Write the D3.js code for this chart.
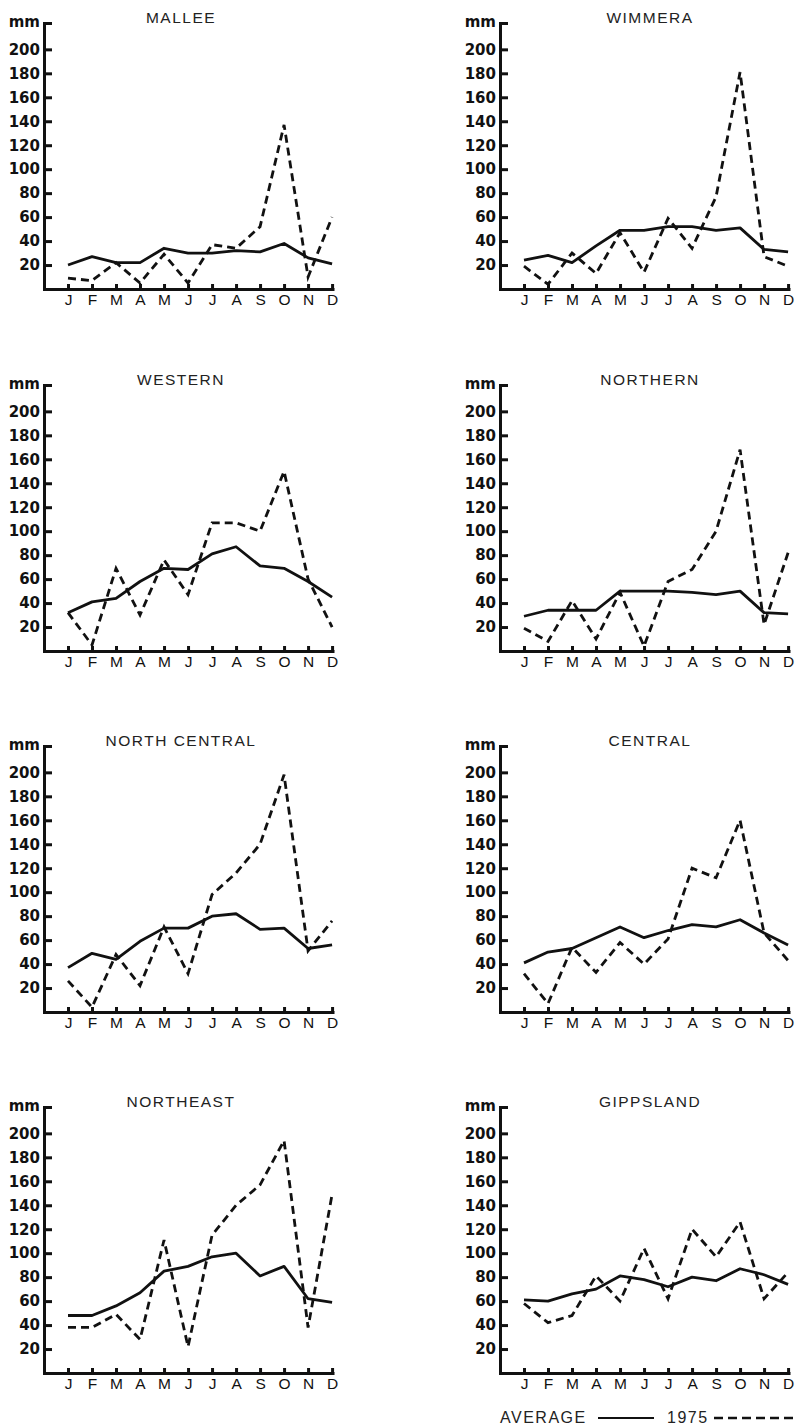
<!DOCTYPE html>
<html>
<head>
<meta charset="utf-8">
<script src="https://cdn.jsdelivr.net/npm/d3@7"></script>
<style>
  body { margin: 0; background: #fff; }
  svg { display: block; }
</style>
</head>
<body>
<script>
const w = 796;
const h = 1426;

// month labels and value ticks
const months = ["J", "F", "M", "A", "M", "J", "J", "A", "S", "O", "N", "D"];
const yTicks = [20, 40, 60, 80, 100, 120, 140, 160, 180, 200];
const regions = ["MALLEE", "WIMMERA", "WESTERN", "NORTHERN", "NORTH CENTRAL", "CENTRAL", "NORTHEAST", "GIPPSLAND"];

// average monthly rainfall (mm)
const avgMallee       = [20, 27, 22, 22, 34, 30, 30, 32, 31, 38, 26, 21];
const avgWimmera      = [24, 28, 22, 36, 49, 49, 52, 52, 49, 51, 33, 31];
const avgWestern      = [32, 41, 44, 58, 69, 68, 81, 87, 71, 69, 58, 45];
const avgNorthern     = [29, 34, 34, 34, 50, 50, 50, 49, 47, 50, 32, 31];
const avgNorthCentral = [37, 49, 44, 59, 70, 70, 80, 82, 69, 70, 53, 56];
const avgCentral      = [41, 50, 53, 62, 71, 62, 68, 73, 71, 77, 66, 56];
const avgNortheast    = [48, 48, 56, 67, 85, 89, 97, 100, 81, 89, 62, 59];
const avgGippsland    = [61, 60, 66, 70, 81, 78, 72, 80, 77, 87, 82, 74];

// 1975 monthly rainfall (mm)
const r75Mallee       = [9, 7, 22, 5, 29, 5, 37, 34, 52, 137, 10, 60];
const r75Wimmera      = [19, 4, 30, 13, 47, 14, 59, 34, 77, 181, 27, 19];
const r75Western      = [32, 5, 69, 30, 76, 47, 107, 107, 100, 150, 60, 20];
const r75Northern     = [19, 8, 42, 10, 49, 4, 58, 68, 100, 168, 22, 82];
const r75NorthCentral = [26, 4, 48, 22, 71, 32, 98, 116, 140, 198, 51, 76];
const r75Central      = [32, 7, 54, 33, 58, 40, 61, 120, 112, 160, 66, 43];
const r75Northeast    = [38, 38, 49, 28, 111, 22, 115, 140, 157, 194, 38, 149];
const r75Gippsland    = [58, 42, 48, 81, 60, 104, 62, 120, 97, 126, 62, 84];

const averages = [avgMallee, avgWimmera, avgWestern, avgNorthern, avgNorthCentral, avgCentral, avgNortheast, avgGippsland];
const rain1975 = [r75Mallee, r75Wimmera, r75Western, r75Northern, r75NorthCentral, r75Central, r75Northeast, r75Gippsland];

const colX = [44, 500];
const rowY = [289, 651, 1012, 1373];

const svg = d3.select("body")
    .append("svg")
    .attr("width", w)
    .attr("height", h)

const ink = "#111";

regions.forEach((name, k) => {
    const ax = colX[k % 2];
    const ay = rowY[Math.floor(k / 2)];

    // J at ax+24 ... D at ax+288, axis line runs from ax to ax+290
    const xScale = d3.scaleLinear()
      .domain([-1, 11.08])
      .range([ax, ax + 290])

    const yScale = d3.scaleLinear()
      .domain([0, 222])
      .range([ay, ay - 266])

    const g = svg.append("g")

    // Left axis
    const yAxis = d3.axisLeft(yScale)
      .tickValues(yTicks)
      .tickSizeInner(-8)
      .tickSizeOuter(-8)
      .tickPadding(4)

    const yg = g.append("g")
      .attr("transform", `translate(${ax},0)`)
      .call(yAxis)
    yg.select(".domain").attr("stroke", ink).attr("stroke-width", 3)
    yg.selectAll(".tick line").attr("stroke", ink).attr("stroke-width", 3)
    yg.selectAll(".tick text")
      .style("font-family", "DejaVu Sans")
      .style("font-weight", "bold")
      .style("font-size", "15px")
      .attr("fill", ink)

    // Bottom axis
    const xAxis = d3.axisBottom(xScale)
      .tickValues(d3.range(12))
      .tickFormat(i => months[i])
      .tickSizeInner(-5)
      .tickSizeOuter(0)
      .tickPadding(5)

    const xg = g.append("g")
      .attr("transform", `translate(0,${ay})`)
      .call(xAxis)
    xg.select(".domain").attr("stroke", ink).attr("stroke-width", 3)
    xg.selectAll(".tick line").attr("stroke", ink).attr("stroke-width", 3)
    xg.selectAll(".tick text")
      .style("font-family", "Liberation Sans")
      .style("font-size", "15.5px")
      .attr("fill", ink)

    // unit label
    g.append("text")
      .attr("x", ax - 4)
      .attr("y", ay - 262)
      .attr("text-anchor", "end")
      .style("font-family", "DejaVu Sans")
      .style("font-weight", "bold")
      .style("font-size", "15px")
      .attr("fill", ink)
      .text("mm")

    // panel title
    g.append("text")
      .attr("x", ax + (k % 2 ? 150 : 137))
      .attr("y", ay - 266)
      .attr("text-anchor", "middle")
      .style("font-family", "Liberation Sans")
      .style("font-size", "15.5px")
      .style("letter-spacing", "1.5px")
      .attr("fill", "#222")
      .text(name)

    const line = d3.line()
      .x((d, i) => xScale(i))
      .y(d => yScale(d))

    // average
    g.append("path")
      .datum(averages[k])
      .attr("d", line)
      .attr("fill", "none")
      .attr("stroke", ink)
      .attr("stroke-width", 2.8)
      .attr("stroke-linejoin", "round")

    // 1975
    g.append("path")
      .datum(rain1975[k])
      .attr("d", line)
      .attr("fill", "none")
      .attr("stroke", ink)
      .attr("stroke-width", 2.8)
      .attr("stroke-dasharray", "8,5")
})

// Legend
const legY = 1418;
svg.append("text")
    .attr("x", 500)
    .attr("y", legY + 5)
    .style("font-family", "Liberation Sans")
    .style("font-size", "16px")
    .style("letter-spacing", "1.5px")
    .attr("fill", "#222")
    .text("AVERAGE")

svg.append("line")
    .attr("x1", 598).attr("x2", 654)
    .attr("y1", legY).attr("y2", legY)
    .attr("stroke", ink)
    .attr("stroke-width", 2)

svg.append("text")
    .attr("x", 667)
    .attr("y", legY + 5)
    .style("font-family", "Liberation Sans")
    .style("font-size", "16px")
    .style("letter-spacing", "1.5px")
    .attr("fill", "#222")
    .text("1975")

svg.append("line")
    .attr("x1", 714).attr("x2", 796)
    .attr("y1", legY).attr("y2", legY)
    .attr("stroke", ink)
    .attr("stroke-width", 2.6)
    .attr("stroke-dasharray", "9,5")
</script>
</body>
</html>
